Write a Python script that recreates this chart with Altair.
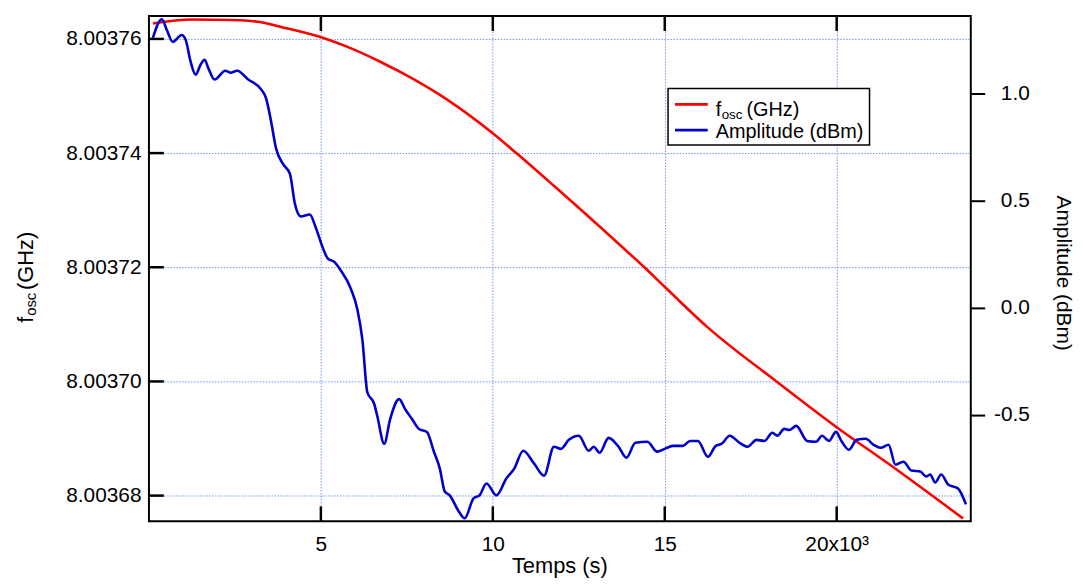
import altair as alt
import pandas as pd

# ---- data ----
t_freq = [115, 1241, 2396, 3176, 3840, 5052, 5774, 6727, 7708, 8661, 9989, 10682,
          11750, 13771, 14406, 15012, 16225, 18246, 19949, 21710, 23673]
f_freq = [8.0037627, 8.0037634, 8.0037633, 8.0037630, 8.0037621, 8.0037602, 8.0037586,
          8.0037560, 8.0037529, 8.0037494, 8.0037435, 8.0037400, 8.0037344, 8.0037235,
          8.0037200, 8.0037165, 8.0037096, 8.0037000, 8.0036922, 8.0036847, 8.0036760]

t_amp = [115, 375, 520, 693, 953, 1068, 1213, 1357, 1501, 1617, 1732, 1905, 2223, 2367,
         2569, 2887, 3262, 3407, 3551, 3695, 3897, 4100, 4244, 4417, 4677, 4850, 5052,
         5197, 5399, 5572, 5861, 6063, 6207, 6351, 6553, 6640, 6842, 7015, 7275, 7448,
         7651, 7853, 8084, 8286, 8459, 8603, 8748, 9007, 9181, 9440, 9614, 9816, 10105,
         10393, 10624, 10884, 11202, 11490, 11779, 11981, 12212, 12501, 12789, 12934,
         13107, 13367, 13656, 13886, 14146, 14493, 14781, 15070, 15243, 15532, 15734,
         15965, 16254, 16485, 16658, 16889, 17178, 17409, 17668, 17899, 18130, 18274,
         18477, 18621, 18823, 19141, 19401, 19574, 19776, 19978, 20151, 20353, 20584,
         20844, 21075, 21277, 21508, 21710, 21941, 22172, 22432, 22605, 22721, 22865,
         23038, 23240, 23529, 23760]
a_amp = [1.259, 1.346, 1.296, 1.241, 1.273, 1.250, 1.148, 1.088, 1.134, 1.157, 1.116,
         1.065, 1.106, 1.097, 1.106, 1.065, 1.019, 0.977, 0.870, 0.745, 0.671, 0.625,
         0.486, 0.426, 0.435, 0.375, 0.282, 0.231, 0.213, 0.176, 0.093, -0.009, -0.148,
         -0.394, -0.449, -0.505, -0.634, -0.519, -0.426, -0.472, -0.519, -0.565, -0.579,
         -0.671, -0.750, -0.857, -0.875, -0.949, -0.982, -0.889, -0.875, -0.820, -0.875,
         -0.796, -0.750, -0.667, -0.727, -0.783, -0.648, -0.658, -0.616, -0.597, -0.667,
         -0.648, -0.676, -0.607, -0.648, -0.699, -0.630, -0.625, -0.671, -0.653, -0.644,
         -0.644, -0.621, -0.621, -0.695, -0.644, -0.634, -0.597, -0.630, -0.648, -0.616,
         -0.621, -0.583, -0.597, -0.565, -0.570, -0.551, -0.621, -0.625, -0.597, -0.621,
         -0.579, -0.625, -0.662, -0.616, -0.611, -0.639, -0.653, -0.639, -0.732, -0.718,
         -0.759, -0.764, -0.787, -0.778, -0.815, -0.778, -0.824, -0.843, -0.917]

x_ticks = [5000, 10000, 15000, 20000]
f_ticks = [8.00368, 8.00370, 8.00372, 8.00374, 8.00376]
a_ticks = [-0.5, 0.0, 0.5, 1.0]

# ---- layout / style ----
W, H = 828, 509
FONT = "Liberation Sans"
RED = "#ff0000"
BLUE = "#0000cc"
GRID = "#5f86ff"
TK = 15

df_f = pd.DataFrame({"t": t_freq, "f": f_freq})
df_a = pd.DataFrame({"t": t_amp, "a": a_amp})
df_xt = pd.DataFrame({"t": x_ticks})
df_ft = pd.DataFrame({"f": f_ticks})
one = pd.DataFrame({"k": [0]})

sx = alt.Scale(domain=[0, 23900], nice=False, zero=False)
sf = alt.Scale(domain=[8.0036755, 8.003764], nice=False, zero=False)
sa = alt.Scale(domain=[-0.996, 1.361], nice=False, zero=False)

x_axis = alt.Axis(values=x_ticks, orient="bottom", ticks=False, domain=False, labelPadding=12,
                  labelFontSize=21, labelFont=FONT, labelColor="black", labelFlush=False,
                  labelExpr="datum.value == 20000 ? '20x10\u00b3' : format(datum.value / 1000, 'd')",
                  grid=True, gridColor=GRID, gridDash=[1.5, 1.5], gridWidth=1, gridOpacity=0.9,
                  title=None)
f_axis = alt.Axis(values=f_ticks, orient="left", format=".5f", ticks=False, domain=False,
                  labelPadding=8, labelFontSize=21, labelFont=FONT, labelColor="black",
                  labelFlush=False, grid=True, gridColor=GRID, gridDash=[1.5, 1.5], gridWidth=1,
                  gridOpacity=0.9, title=None)
a_axis = alt.Axis(values=a_ticks, orient="right", ticks=True, tickSize=14, tickWidth=2,
                  tickColor="black", domain=False, labelAlign="right", labelPadding=45,
                  labelBaseline="middle", labelFontSize=21, labelFont=FONT, labelColor="black",
                  labelFlush=False, grid=False, title=None,
                  labelExpr="replace(format(datum.value, '.1f'), '\u2212', '-')")

red = alt.Chart(df_f).mark_line(color=RED, strokeWidth=2.6, interpolate="monotone").encode(
    x=alt.X("t:Q", scale=sx, axis=x_axis),
    y=alt.Y("f:Q", scale=sf, axis=f_axis),
)

# inward tick marks, drawn as short rules at the tick values
tick_left = alt.Chart(df_ft).mark_rule(color="#000000", strokeWidth=2.5).encode(
    y=alt.Y("f:Q", scale=sf), x=alt.value(0), x2=alt.value(TK))
tick_bottom = alt.Chart(df_xt).mark_rule(color="#000000", strokeWidth=2.5).encode(
    x=alt.X("t:Q", scale=sx), y=alt.value(H), y2=alt.value(H - TK))
tick_top = alt.Chart(df_xt).mark_rule(color="#000000", strokeWidth=2.5).encode(
    x=alt.X("t:Q", scale=sx), y=alt.value(0), y2=alt.value(TK))

# legend box
leg_box = alt.Chart(one).mark_rect(fill="white", stroke="black", strokeWidth=1.5).encode(
    x=alt.value(523), x2=alt.value(726), y=alt.value(73), y2=alt.value(130))
leg_red = alt.Chart(one).mark_rule(color=RED, strokeWidth=2.8).encode(
    x=alt.value(530), x2=alt.value(563), y=alt.value(89))
leg_blue = alt.Chart(one).mark_rule(color=BLUE, strokeWidth=2.8).encode(
    x=alt.value(530), x2=alt.value(563), y=alt.value(115))


def txt(s, x, y, size, angle=0, align="left", baseline="alphabetic"):
    return alt.Chart(one).mark_text(text=s, font=FONT, fontSize=size, color="black",
                                    align=align, baseline=baseline, angle=angle).encode(
        x=alt.value(x), y=alt.value(y))


leg_t1 = txt("f", 571, 101, 20)
leg_t2 = txt("osc", 577, 104, 13.5)
leg_t3 = txt("(GHz)", 602, 101, 20)
leg_t4 = txt("Amplitude (dBm)", 571, 123, 20)

# left axis title  f_osc (GHz), rotated
yt1 = txt("f", -117, 309, 22, angle=270)
yt2 = txt("osc", -114, 302, 15, angle=270)
yt3 = txt("(GHz)", -117, 276, 22, angle=270)

# bottom and right titles
xt = txt("Temps (s)", W / 2, 561, 22, align="center")
rt = txt("Amplitude (dBm)", 921, 259, 21, angle=90, align="center", baseline="middle")

left = alt.layer(red, leg_box, leg_red, leg_blue,
                 leg_t1, leg_t2, leg_t3, leg_t4, yt1, yt2, yt3, xt, rt,
                 tick_left, tick_bottom, tick_top)

blue = alt.Chart(df_a).mark_line(color=BLUE, strokeWidth=2.6, interpolate="monotone").encode(
    x=alt.X("t:Q", scale=sx, axis=x_axis),
    y=alt.Y("a:Q", scale=sa, axis=a_axis),
)

chart = alt.layer(left, blue).resolve_scale(y="independent").properties(
    width=W, height=H,
    autosize=alt.AutoSizeParams(type="none"),
    padding={"left": 142, "top": 6, "right": 105, "bottom": 57},
).configure(background="white").configure_view(stroke="black", strokeWidth=2)

chart.save("out.html", embed_options={"renderer": "svg", "actions": False})
